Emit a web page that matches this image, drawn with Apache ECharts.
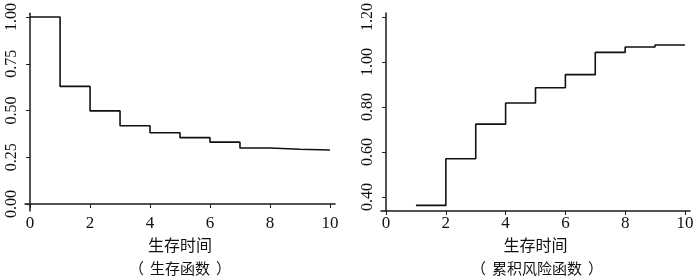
<!DOCTYPE html>
<html><head><meta charset="utf-8">
<script src="https://cdn.jsdelivr.net/npm/echarts@6/dist/echarts.min.js"></script>
<style>html,body{margin:0;padding:0;background:#fff}#c{width:700px;height:280px}</style>
</head><body><div id="c"></div>
<script>
const times = [0,1,2,3,4,5,6,7,8,9,10];
const survival = [1.00,0.629,0.498,0.419,0.381,0.355,0.331,0.300,0.293,0.289,0.289];
const hazardTimes = [1,2,3,4,5,6,7,8,9,10];
const hazard = [0.363,0.570,0.724,0.818,0.886,0.944,1.043,1.067,1.076,1.076];
const xTicks = [0,2,4,6,8,10];
const yTicksLeft = [0,0.25,0.5,0.75,1.0];
const yTicksRight = [0.4,0.6,0.8,1.0,1.2];
const xName = '生存时间';
const titleLeft = '生存函数';
const titleRight = '累积风险函数';

const serif = '"Liberation Serif","DejaVu Serif",serif';
const cjk = '"Noto Sans CJK SC",sans-serif';
const axisCol = '#1a1a1a';

function xAxis(gi){
  return {
    type:'value', gridIndex:gi, min:-0.17, max:10.17,
    axisLine:{show:true,lineStyle:{color:axisCol,width:1.5}},
    axisTick:{show:true,length:4,customValues:xTicks,lineStyle:{color:axisCol,width:1}},
    axisLabel:{customValues:xTicks,color:'#111',fontFamily:serif,fontSize:17,margin:4},
    splitLine:{show:false},
    name:xName, nameLocation:'middle', nameGap:22,
    nameTextStyle:{fontFamily:cjk,fontSize:16,color:'#111'}
  };
}
function yAxis(gi,min,max,ticks){
  return {
    type:'value', gridIndex:gi, min:min, max:max,
    axisLine:{show:true,lineStyle:{color:axisCol,width:1.5}},
    axisTick:{show:true,length:4,customValues:ticks,lineStyle:{color:axisCol,width:1}},
    axisLabel:{customValues:ticks,rotate:90,color:'#111',fontFamily:serif,fontSize:16,margin:5,
      formatter:v=>v.toFixed(2)},
    splitLine:{show:false}
  };
}
function titleText(t){ return '{l|（}{t|' + t + '}{r|）}'; }
const titleRich = {
  l:{fontFamily:cjk,fontSize:15,color:'#111',padding:[0,6,0,0]},
  t:{fontFamily:cjk,fontSize:15,color:'#111'},
  r:{fontFamily:cjk,fontSize:15,color:'#111',padding:[0,0,0,6]}
};

const chart = echarts.init(document.getElementById('c'),null,{renderer:'canvas'});
chart.setOption({
  animation:false,
  backgroundColor:'#fff',
  title:[
    {text:titleText(titleLeft),left:180,top:261,textAlign:'center',padding:0,
     textStyle:{fontFamily:cjk,fontSize:15,fontWeight:'normal',color:'#111',rich:titleRich}},
    {text:titleText(titleRight),left:537,top:261,textAlign:'center',padding:0,
     textStyle:{fontFamily:cjk,fontSize:15,fontWeight:'normal',color:'#111',rich:titleRich}}
  ],
  grid:[
    {left:25,right:365,top:13,bottom:69},
    {left:381,right:10,top:13,bottom:69}
  ],
  xAxis:[xAxis(0),xAxis(1)],
  yAxis:[yAxis(0,-0.037,1.02,yTicksLeft),yAxis(1,0.338,1.218,yTicksRight)],
  series:[
    {type:'line',xAxisIndex:0,yAxisIndex:0,step:'end',symbol:'none',
     lineStyle:{color:'#111',width:1.6},data:times.map((t,i)=>[t,survival[i]])},
    {type:'line',xAxisIndex:1,yAxisIndex:1,step:'end',symbol:'none',
     lineStyle:{color:'#111',width:1.6},data:hazardTimes.map((t,i)=>[t,hazard[i]])}
  ]
});
</script></body></html>
